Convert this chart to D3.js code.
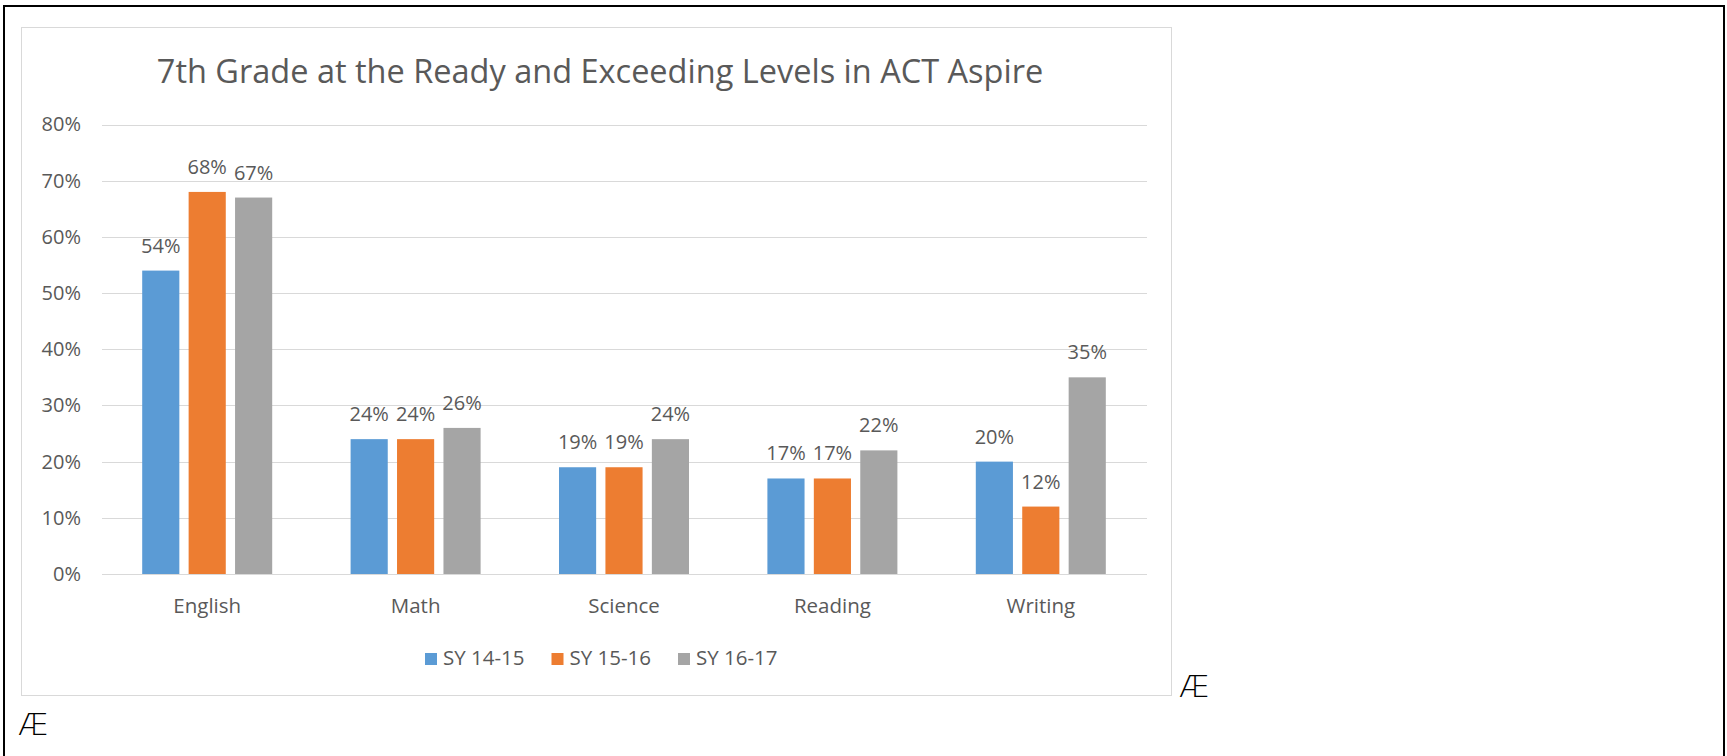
<!DOCTYPE html>
<meta charset="utf-8">
<style>
body { margin: 0; background: #fff; }
text { font-family: "Open Sans", sans-serif; fill: #595959; }
.grid line { stroke: #d9d9d9; stroke-width: 1px; }
</style>
<svg width="1727" height="756"></svg>
<script src="https://d3js.org/d3.v7.min.js"></script>
<script>

// data
var subjects = ["English", "Math", "Science", "Reading", "Writing"];
var years = ["SY 14-15", "SY 15-16", "SY 16-17"];
var sy1415 = [54, 24, 19, 17, 20];
var sy1516 = [68, 24, 19, 17, 12];
var sy1617 = [67, 26, 24, 22, 35];
var yTicks = [0, 10, 20, 30, 40, 50, 60, 70, 80];
var colors = ["#5b9bd5", "#ed7d31", "#a5a5a5"];

var series = [sy1415, sy1516, sy1617];

var svg = d3.select("svg");

// page frame (table cell borders)
svg.append("rect")
  .attr("x", 4).attr("y", 6)
  .attr("width", 1720).attr("height", 760)
  .attr("fill", "none").attr("stroke", "#000").attr("stroke-width", 2);

// chart box
svg.append("rect")
  .attr("x", 21.5).attr("y", 27.5)
  .attr("width", 1150).attr("height", 668)
  .attr("fill", "#fff").attr("stroke", "#d9d9d9");

var x0 = d3.scaleBand().domain(subjects).range([103, 1145]);
var x1 = d3.scaleBand().domain(years).range([0, 130]).paddingInner(0.2);
var y = d3.scaleLinear().domain([0, 80]).range([574, 124.5]);

// gridlines
svg.append("g").attr("class", "grid")
  .selectAll("line")
  .data(yTicks)
  .enter().append("line")
  .attr("x1", 102).attr("x2", 1147)
  .attr("y1", d => Math.round(y(d)) + 0.5)
  .attr("y2", d => Math.round(y(d)) + 0.5);

// y axis labels
var yAxis = d3.axisLeft(y).tickValues(yTicks).tickFormat(d => d + "%").tickSize(0).tickPadding(0);
var ya = svg.append("g").attr("transform", "translate(81,0)").call(yAxis);
ya.select(".domain").remove();
ya.selectAll("text").style("font-size", "20px").attr("fill", "#595959").style("font-family", "'Open Sans', sans-serif");

// x axis labels
var xAxis = d3.axisBottom(x0).tickSize(0).tickPadding(0);
var xa = svg.append("g").attr("transform", "translate(0,598)").call(xAxis);
xa.select(".domain").remove();
xa.selectAll("text").style("font-size", "20.5px").attr("fill", "#595959").style("font-family", "'Open Sans', sans-serif");

// bars
var groups = svg.append("g").selectAll("g")
  .data(subjects)
  .enter().append("g")
  .attr("transform", d => "translate(" + (x0(d) + (x0.bandwidth() - 130) / 2) + ",0)");

groups.selectAll("rect")
  .data((d, i) => years.map((yr, j) => ({year: yr, value: series[j][i], j: j})))
  .enter().append("rect")
  .attr("x", d => x1(d.year))
  .attr("width", x1.bandwidth())
  .attr("y", d => y(d.value))
  .attr("height", d => y(0) - y(d.value))
  .attr("fill", d => colors[d.j]);

groups.selectAll("text.lbl")
  .data((d, i) => years.map((yr, j) => ({year: yr, value: series[j][i], j: j})))
  .enter().append("text")
  .attr("class", "lbl")
  .attr("x", d => x1(d.year) + x1.bandwidth() / 2)
  .attr("y", d => y(d.value) - 18)
  .attr("text-anchor", "middle")
  .style("font-size", "20px")
  .text(d => d.value + "%");

// title
svg.append("text")
  .attr("x", 600).attr("y", 83)
  .attr("text-anchor", "middle")
  .style("font-size", "32.5px")
  .text("7th Grade at the Ready and Exceeding Levels in ACT Aspire");

// legend
var legend = svg.append("g").selectAll("g")
  .data(years)
  .enter().append("g")
  .attr("transform", (d, i) => "translate(" + (425 + i * 126.5) + ",653)");
legend.append("rect")
  .attr("width", 12).attr("height", 12)
  .attr("fill", (d, i) => colors[i]);
legend.append("text")
  .attr("x", 18).attr("y", 12)
  .style("font-size", "20.5px")
  .text(d => d);

// stray characters in the source document
svg.append("text").attr("x", 1179).attr("y", 697)
  .style("font-size", "31px").style("font-weight", "200").style("fill", "#000").style("font-family", "'DejaVu Sans', sans-serif")
  .text("Æ");
svg.append("text").attr("x", 18).attr("y", 735)
  .style("font-size", "31px").style("font-weight", "200").style("fill", "#000").style("font-family", "'DejaVu Sans', sans-serif")
  .text("Æ");

</script>
